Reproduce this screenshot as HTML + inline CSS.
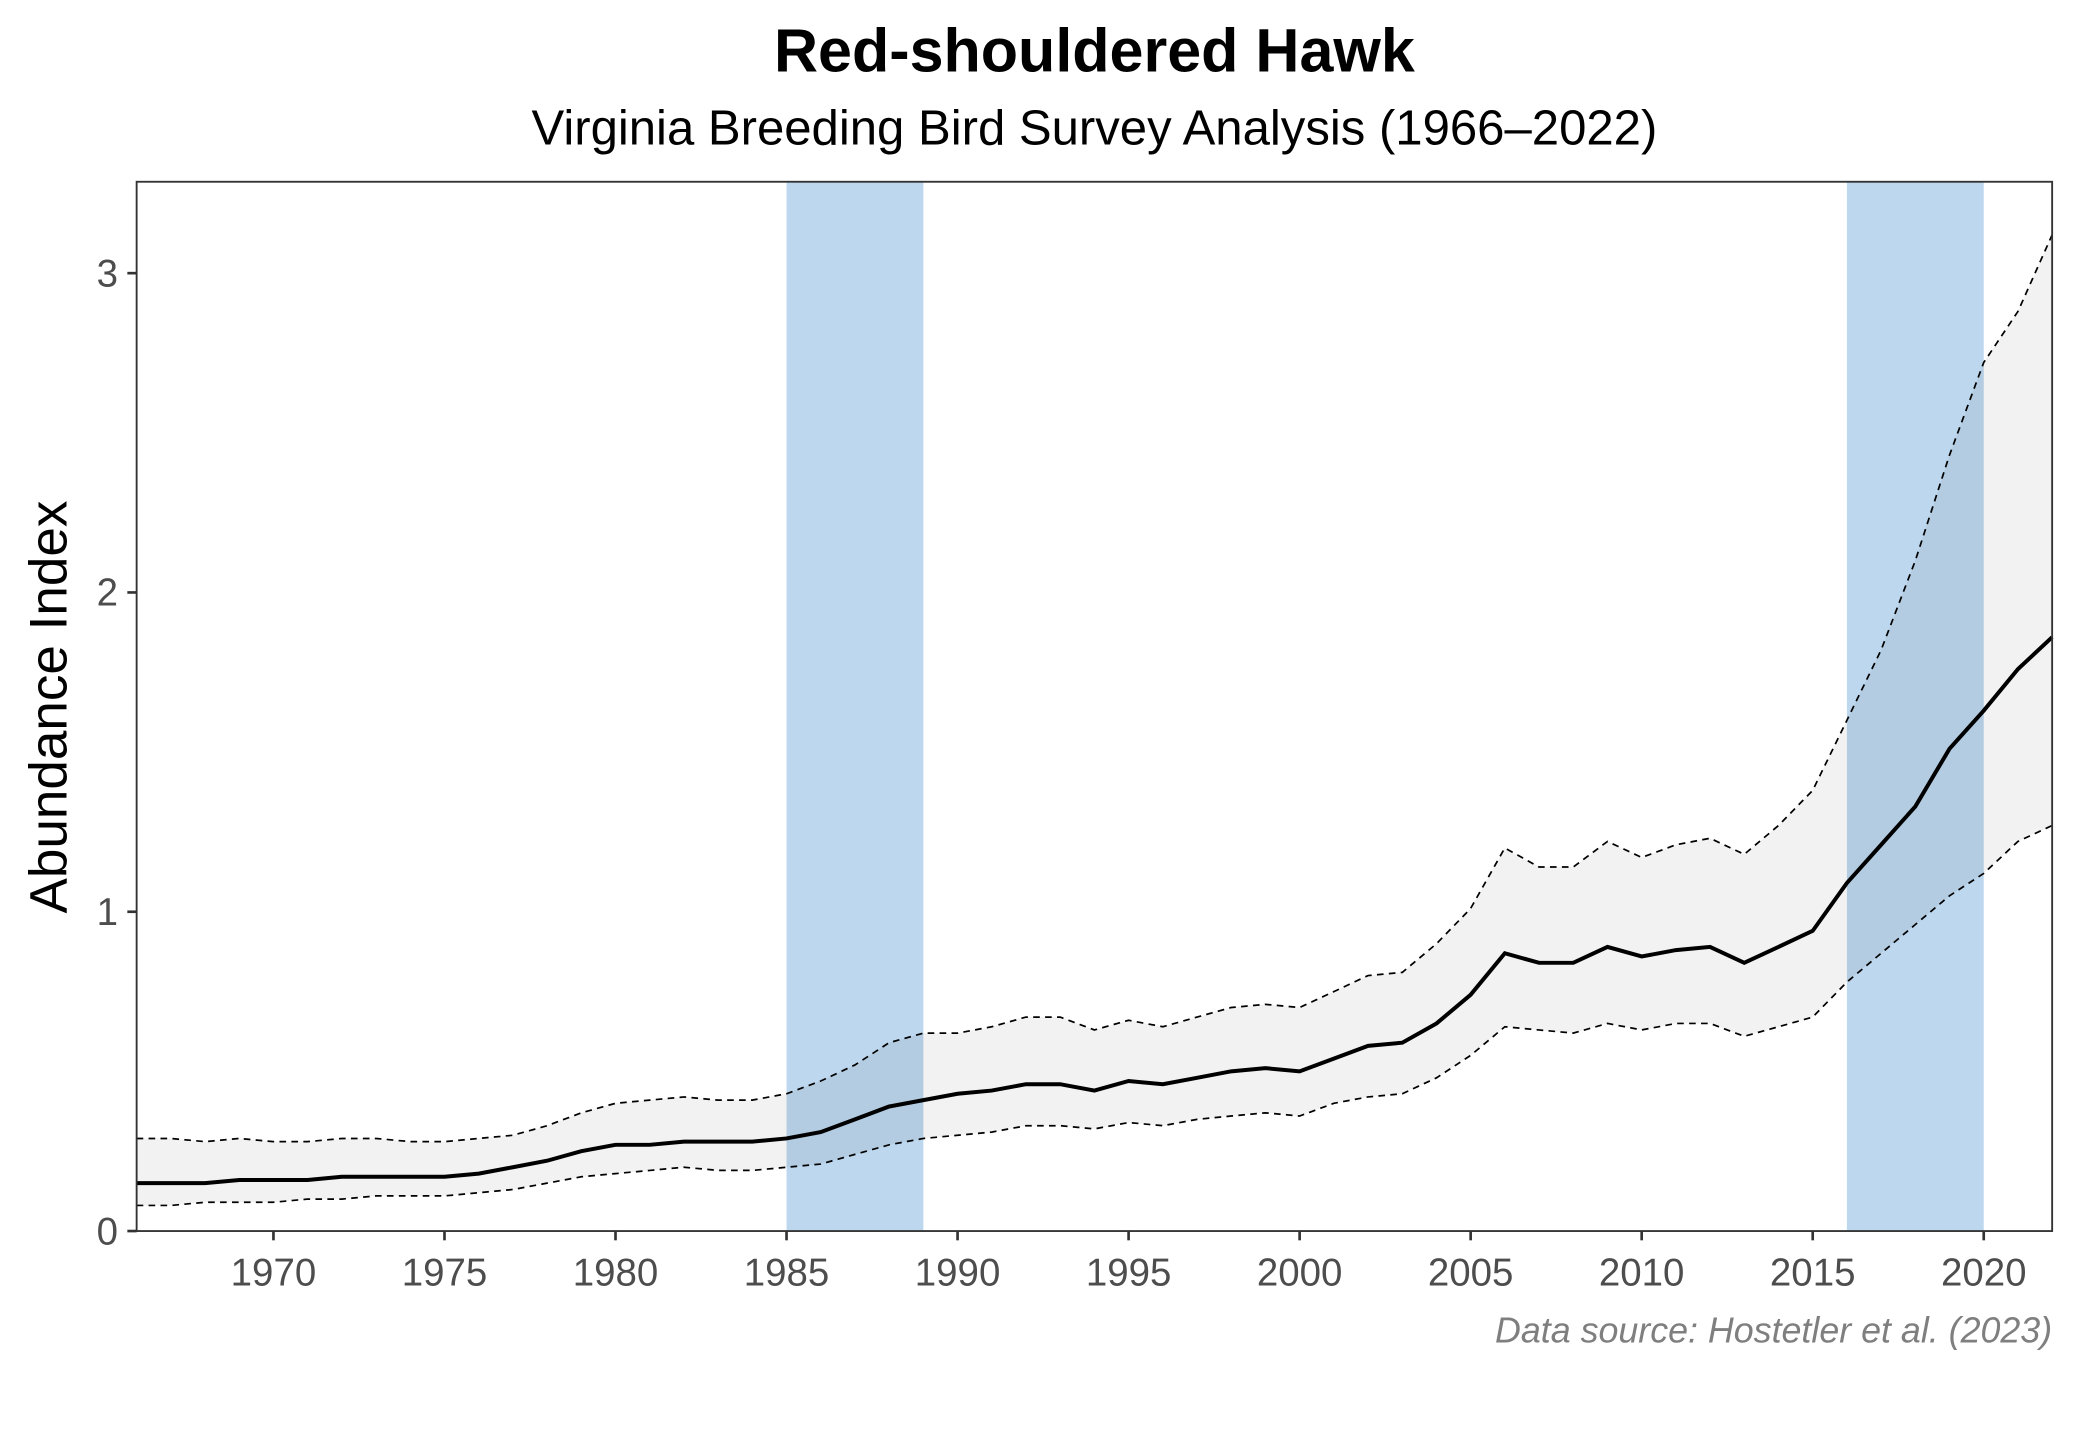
<!DOCTYPE html>
<html><head><meta charset="utf-8"><style>
html,body{margin:0;padding:0;background:#fff;width:2080px;height:1440px;overflow:hidden}
svg{display:block}
text{font-family:"Liberation Sans",Arial,sans-serif}
</style></head><body>
<svg id="s" width="2080" height="1440" viewBox="0 0 1568 1085.5" xmlns="http://www.w3.org/2000/svg">
<rect width="1568" height="1086" fill="#fff"/>
<g id="g"></g>
<text x="825" y="54" text-anchor="middle" font-size="46" font-weight="bold" fill="#000">Red-shouldered Hawk</text>
<text x="825" y="109" text-anchor="middle" font-size="37" fill="#000">Virginia Breeding Bird Survey Analysis (1966–2022)</text>
<text transform="translate(50,533) rotate(-90)" text-anchor="middle" font-size="40" fill="#000">Abundance Index</text>
<text x="1547" y="1012" text-anchor="end" font-size="27" font-style="italic" fill="#7f7f7f">Data source: Hostetler et al. (2023)</text>
</svg>
<script>
var m=[.15,.15,.15,.16,.16,.16,.17,.17,.17,.17,.18,.20,.22,.25,.27,.27,.28,.28,.28,.29,.31,.35,.39,.41,.43,.44,.46,.46,.44,.47,.46,.48,.50,.51,.50,.54,.58,.59,.65,.74,.87,.84,.84,.89,.86,.88,.89,.84,.89,.94,1.09,1.21,1.33,1.51,1.63,1.76,1.86];
var u=[.29,.29,.28,.29,.28,.28,.29,.29,.28,.28,.29,.30,.33,.37,.40,.41,.42,.41,.41,.43,.47,.52,.59,.62,.62,.64,.67,.67,.63,.66,.64,.67,.70,.71,.70,.75,.80,.81,.90,1.01,1.20,1.14,1.14,1.22,1.17,1.21,1.23,1.18,1.27,1.38,1.60,1.82,2.10,2.43,2.72,2.88,3.12];
var l=[.08,.08,.09,.09,.09,.10,.10,.11,.11,.11,.12,.13,.15,.17,.18,.19,.20,.19,.19,.20,.21,.24,.27,.29,.30,.31,.33,.33,.32,.34,.33,.35,.36,.37,.36,.40,.42,.43,.48,.55,.64,.63,.62,.65,.63,.65,.65,.61,.64,.67,.78,.87,.96,1.05,1.12,1.22,1.27];
var L=103,R=1547,T=137,B=928;
function X(y){return L+(y-1966)*(R-L)/56}
function Y(v){return 928-v*240.7}
function pts(a){return a.map(function(v,i){return X(1966+i).toFixed(1)+','+Y(v).toFixed(1)}).join(' ')}
var h='';
h+='<rect x="'+X(1985)+'" y="'+T+'" width="'+(X(1989)-X(1985))+'" height="'+(B-T)+'" fill="#bdd7ee"/>';
h+='<rect x="'+X(2016)+'" y="'+T+'" width="'+(X(2020)-X(2016))+'" height="'+(B-T)+'" fill="#bdd7ee"/>';
var poly=pts(u)+' '+l.slice().reverse().map(function(v,i){return X(2022-i).toFixed(1)+','+Y(v).toFixed(1)}).join(' ');
h+='<polygon points="'+poly+'" fill="rgba(0,0,0,0.05)"/>';
h+='<polyline points="'+pts(u)+'" fill="none" stroke="#000" stroke-width="1.3" stroke-dasharray="5,4"/>';
h+='<polyline points="'+pts(l)+'" fill="none" stroke="#000" stroke-width="1.3" stroke-dasharray="5,4"/>';
h+='<polyline points="'+pts(m)+'" fill="none" stroke="#000" stroke-width="3"/>';
h+='<rect x="'+L+'" y="'+T+'" width="'+(R-L)+'" height="'+(B-T)+'" fill="none" stroke="#333" stroke-width="1.4"/>';
for(var v=0;v<=3;v++){var y=Y(v);h+='<line x1="'+(L-7)+'" x2="'+L+'" y1="'+y+'" y2="'+y+'" stroke="#333" stroke-width="2"/><text x="'+(L-14)+'" y="'+(y+10)+'" text-anchor="end" font-size="29" fill="#4d4d4d">'+v+'</text>';}
for(var yr=1970;yr<=2020;yr+=5){var x=X(yr);h+='<line x1="'+x+'" x2="'+x+'" y1="'+B+'" y2="'+(B+7)+'" stroke="#333" stroke-width="2"/><text x="'+x+'" y="969" text-anchor="middle" font-size="29" fill="#4d4d4d">'+yr+'</text>';}
document.getElementById('g').innerHTML=h;
</script>
</body></html>
